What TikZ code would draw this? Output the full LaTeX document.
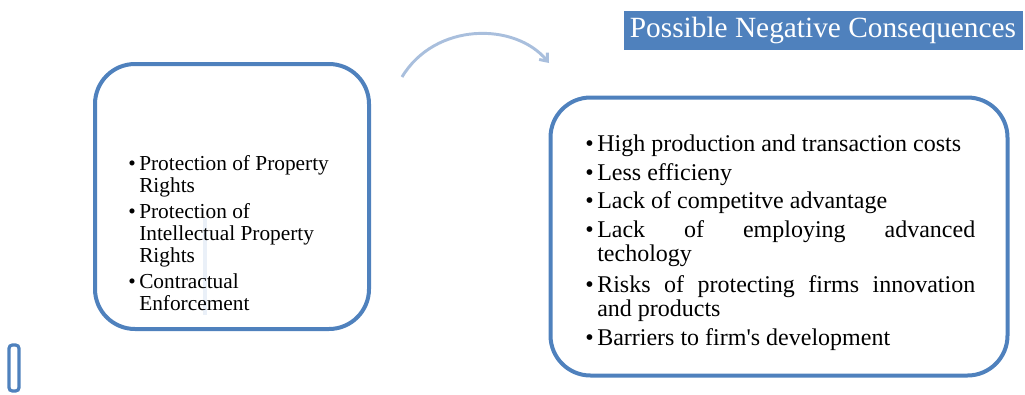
\documentclass[tikz,border=0pt]{standalone}
\usepackage{fontspec}
\setmainfont{Liberation Serif}
\usetikzlibrary{arrows.meta}
\definecolor{ofblue}{HTML}{4F81BD}
\definecolor{arcblue}{HTML}{A9BFDD}
\definecolor{faint}{HTML}{EAF0F8}
\tikzset{
  box/.style={draw=ofblue, line width=3pt, rounded corners=30pt},
  ltxt/.style={anchor=base west, inner sep=0pt, font=\fontsize{16pt}{16pt}\selectfont},
  rtxt/.style={anchor=base west, inner sep=0pt, font=\fontsize{18pt}{18pt}\selectfont},
}
\begin{document}
\begin{tikzpicture}[x=0.75pt,y=-0.75pt]
\useasboundingbox (0,0) rectangle (1025,394);
% boxes
\draw[box] (95,64) rectangle (369,329);
\draw[box] (550.5,97.5) rectangle (1007.5,375.5);
% faint line
\draw[faint, line width=3pt] (205,218) -- (205,315);
% small rectangle
\draw[draw=ofblue, line width=2.4pt, rounded corners=2.5pt] (9,345) rectangle (19,391);
% title
\node[fill=ofblue, text=white, minimum width=399*0.75pt, minimum height=39*0.75pt, inner sep=0pt,
      font=\fontsize{22pt}{22pt}\selectfont] (title) at (823,30.5) {Possible Negative Consequences};
% arc arrow
\coordinate (as) at (402,77);
\coordinate (ae) at (549,63);
\draw[arcblue, line width=2.2pt, -{Straight Barb[length=5pt,width=8pt]}] (as) .. controls (435,22) and (515,22) .. (ae);
% left text
\node[ltxt] (lb1) at (128,170) {\textbullet};
\node[ltxt] (l1a) at (139,170) {Protection of Property};
\node[ltxt] (l1b) at (139,192) {Rights};
\node[ltxt] (lb2) at (128,218) {\textbullet};
\node[ltxt] (l2a) at (139,218) {Protection of};
\node[ltxt] (l2b) at (139,240) {Intellectual Property};
\node[ltxt] (l2c) at (139,262) {Rights};
\node[ltxt] (lb3) at (128,288) {\textbullet};
\node[ltxt] (l3a) at (139,288) {Contractual};
\node[ltxt] (l3b) at (139,310) {Enforcement};
% right text
\node[rtxt] (rb1) at (585,151) {\textbullet};
\node[rtxt] (r1) at (597,151) {High production and transaction costs};
\node[rtxt] (rb2) at (585,180) {\textbullet};
\node[rtxt] (r2) at (597,180) {Less efficieny};
\node[rtxt] (rb3) at (585,208) {\textbullet};
\node[rtxt] (r3) at (597,208) {Lack of competitve advantage};
\node[rtxt] (rb4) at (585,237) {\textbullet};
\node[rtxt] (r4a) at (597,237) {\hbox to 283.5pt{Lack\hfill of\hfill employing\hfill advanced}};
\node[rtxt] (r4b) at (597,261) {techology};
\node[rtxt] (rb5) at (585,292) {\textbullet};
\node[rtxt] (r5a) at (597,292) {\hbox to 283.5pt{Risks\hfill of\hfill protecting\hfill firms\hfill innovation}};
\node[rtxt] (r5b) at (597,316) {and products};
\node[rtxt] (rb6) at (585,345) {\textbullet};
\node[rtxt] (r6) at (597,345) {Barriers to firm\textquotesingle s development};
\end{tikzpicture}
\end{document}
